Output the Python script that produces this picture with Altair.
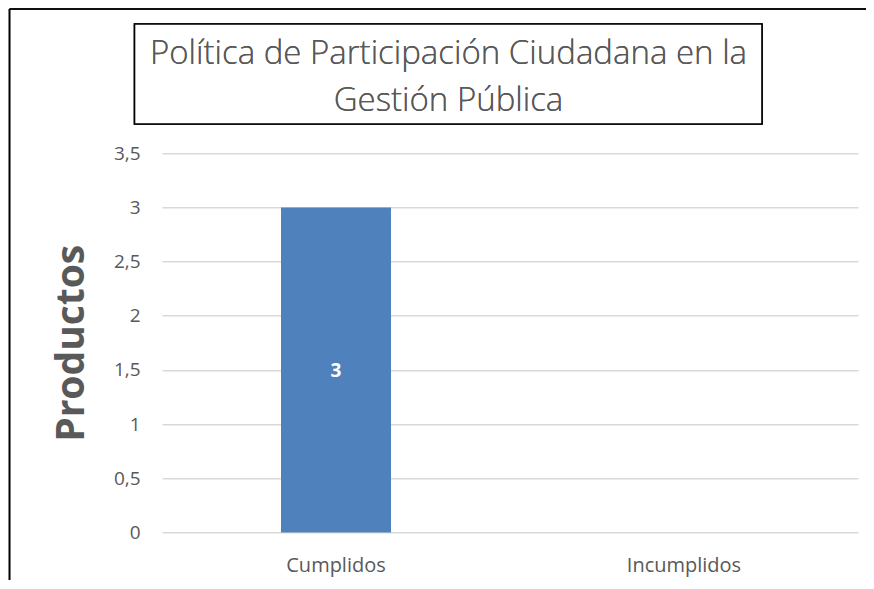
import altair as alt
import pandas as pd

# ---- data ----
categories = ["Cumplidos", "Incumplidos"]
values = [3, 0]
y_ticks = [0, 0.5, 1, 1.5, 2, 2.5, 3, 3.5]
title_lines = ["Política de Participación Ciudadana en la", "Gestión Pública"]
y_title = "Productos"

df = pd.DataFrame({"categoria": categories, "valor": values})

GRAY = "#595959"
FONT = "Open Sans"

x_enc = alt.X(
    "categoria:N",
    sort=categories,
    scale=alt.Scale(paddingInner=0, paddingOuter=0),
    axis=alt.Axis(
        title=None, labelAngle=0, ticks=False, tickSize=0, domain=False,
        labelFont=FONT, labelFontSize=20, labelColor=GRAY, labelPadding=23.5,
    ),
)
y_enc = alt.Y(
    "valor:Q",
    scale=alt.Scale(domain=[0, 3.5], nice=False),
    axis=alt.Axis(
        values=y_ticks,
        labelExpr="replace(format(datum.value, '~g'), '.', ',')",
        title=y_title, titleFont=FONT, titleFontSize=39, titleFontWeight="bold",
        titleColor=GRAY, titleAngle=-90, titleX=-79, titleY=189.5,
        titleAlign="center", titleBaseline="alphabetic",
        ticks=False, tickSize=0, domain=False,
        labelFont=FONT, labelFontSize=19, labelColor=GRAY, labelPadding=22,
        grid=True, gridColor="#d9d9d9", gridWidth=1.5,
    ),
)

base = alt.Chart(df)

bars = base.mark_bar(size=110, color="#4f81bd").encode(x=x_enc, y=y_enc)

labels = (
    base.transform_filter("datum.valor > 0")
    .transform_calculate(mid="datum.valor / 2")
    .mark_text(font=FONT, fontSize=19, fontWeight="bold", color="white",
               baseline="middle", dy=1)
    .encode(x=alt.X("categoria:N", sort=categories), y=alt.Y("mid:Q"),
            text=alt.Text("valor:Q"))
)

title_box = base.mark_rect(fill="white", stroke="black", strokeWidth=1.6).encode(
    x=alt.value(-27.5), x2=alt.value(600), y=alt.value(-129.3), y2=alt.value(-29.3)
)

title_text = base.mark_text(
    text=title_lines, font=FONT, fontSize=33, fontWeight=300, color=GRAY,
    align="center", baseline="alphabetic", lineHeight=46.5,
).encode(x=alt.value(286.5), y=alt.value(-89))

frame_top = base.mark_rule(color="black", strokeWidth=1.6).encode(
    x=alt.value(-152.5), x2=alt.value(720), y=alt.value(-144.3)
)
frame_left = base.mark_rule(color="black", strokeWidth=1.6).encode(
    x=alt.value(-152.5), y=alt.value(-144.3), y2=alt.value(700)
)

chart = (
    alt.layer(bars, labels, title_box, title_text, frame_top, frame_left)
    .properties(
        width=696, height=379.1,
        padding={"left": 154, "top": 145.3, "right": 8, "bottom": 48},
        autosize=alt.AutoSizeParams(type="none"),
        background="white",
    )
    .configure_view(stroke=None)
)

chart.save("out.html", embed_options={"renderer": "svg", "actions": False})
